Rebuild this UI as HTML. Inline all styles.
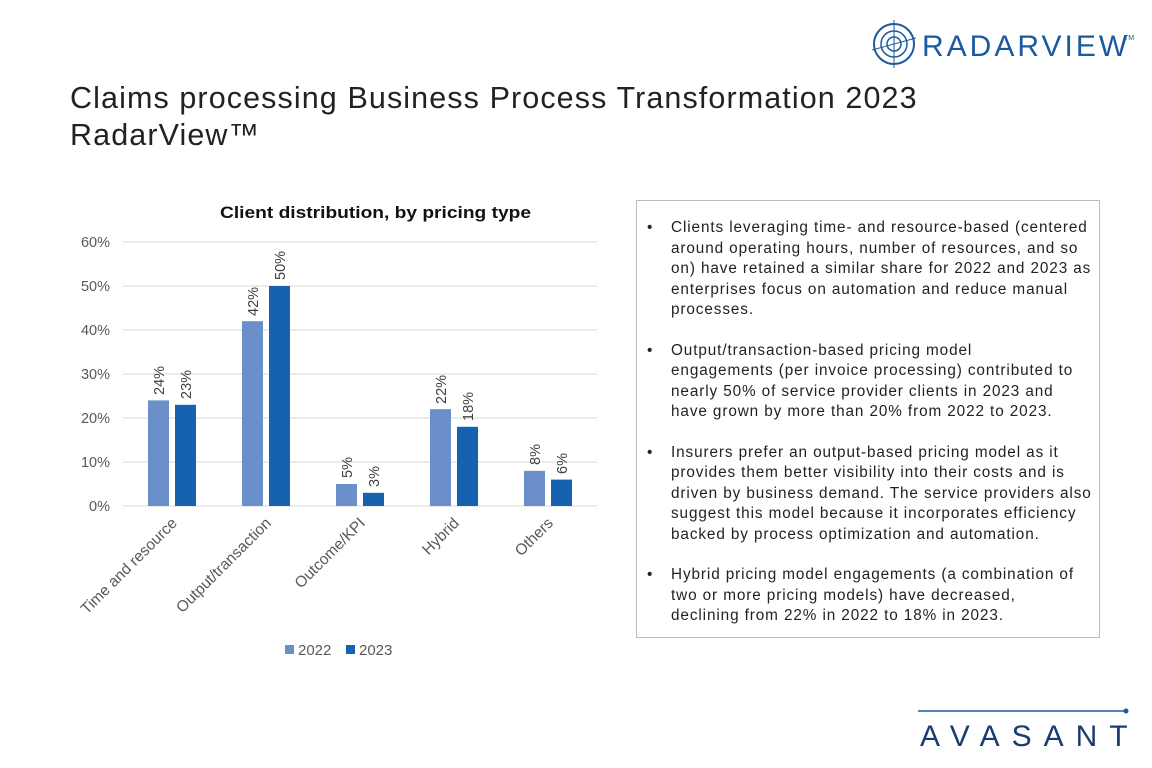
<!DOCTYPE html>
<html><head><meta charset="utf-8"><style>
body{margin:0;width:1152px;height:768px;background:#fff;font-family:"Liberation Sans",sans-serif;position:relative;overflow:hidden}
.t{position:absolute;left:70px;top:80px;font-size:30.5px;line-height:37px;color:#222;letter-spacing:1.1px;white-space:nowrap}
.box{position:absolute;left:636px;top:200px;width:464px;height:438px;border:1px solid #bbb;box-sizing:border-box}
.box ul{margin:0;padding:17px 0 0 34px;font-size:15.3px;line-height:20.5px;color:#222;white-space:nowrap;letter-spacing:0.9px}
.box li{margin-bottom:20px;list-style:none;position:relative}
.box li:before{content:"•";position:absolute;left:-24px}
</style></head><body>
<div class="t">Claims processing Business Process Transformation 2023<br>RadarView™</div>
<svg style="position:absolute;left:0;top:0" width="1152" height="768" font-family="Liberation Sans, sans-serif">
<g stroke="#1a5aa0" fill="none" stroke-width="2">
<circle cx="894" cy="44" r="20"/><circle cx="894" cy="44" r="13" stroke-width="1.5"/><circle cx="894" cy="44" r="7" stroke-width="1.5"/>
<line x1="894" y1="20" x2="894" y2="68" stroke-width="1"/><line x1="872" y1="50" x2="916" y2="38" stroke-width="1"/></g>
<text x="922" y="56" font-size="30" fill="#1a5aa0" letter-spacing="3">RADARVIEW</text>
<text x="1124" y="40" font-size="7" fill="#1a5aa0">TM</text>
<text x="220" y="218" font-size="16.5" font-weight="bold" fill="#111" textLength="311" lengthAdjust="spacingAndGlyphs">Client distribution, by pricing type</text>
<g stroke="#d9d9d9" stroke-width="1">
<line x1="123" y1="242" x2="597" y2="242"/><line x1="123" y1="286" x2="597" y2="286"/><line x1="123" y1="330" x2="597" y2="330"/><line x1="123" y1="374" x2="597" y2="374"/><line x1="123" y1="418" x2="597" y2="418"/><line x1="123" y1="462" x2="597" y2="462"/><line x1="123" y1="506" x2="597" y2="506"/></g>
<g font-size="14.5" fill="#595959" text-anchor="end">
<text x="110" y="247">60%</text><text x="110" y="291">50%</text><text x="110" y="335">40%</text><text x="110" y="379">30%</text><text x="110" y="423">20%</text><text x="110" y="467">10%</text><text x="110" y="511">0%</text></g>
<g fill="#6b8fc8">
<rect x="148" y="400.4" width="21" height="105.6"/><rect x="242" y="321.2" width="21" height="184.8"/><rect x="336" y="484" width="21" height="22"/><rect x="430" y="409.2" width="21" height="96.8"/><rect x="524" y="470.8" width="21" height="35.2"/></g>
<g fill="#1762b0">
<rect x="175" y="404.8" width="21" height="101.2"/><rect x="269" y="286" width="21" height="220"/><rect x="363" y="492.8" width="21" height="13.2"/><rect x="457" y="426.8" width="21" height="79.2"/><rect x="551" y="479.6" width="21" height="26.4"/></g>
<g font-size="14.5" fill="#404040">
<text transform="translate(164,395) rotate(-90)">24%</text><text transform="translate(191,399) rotate(-90)">23%</text>
<text transform="translate(258,316) rotate(-90)">42%</text><text transform="translate(285,280) rotate(-90)">50%</text>
<text transform="translate(352,478) rotate(-90)">5%</text><text transform="translate(379,487) rotate(-90)">3%</text>
<text transform="translate(446,404) rotate(-90)">22%</text><text transform="translate(473,421) rotate(-90)">18%</text>
<text transform="translate(540,465) rotate(-90)">8%</text><text transform="translate(567,474) rotate(-90)">6%</text></g>
<g font-size="15.5" fill="#595959" text-anchor="end">
<text transform="translate(178,524) rotate(-45)">Time and resource</text>
<text transform="translate(272,524) rotate(-45)">Output/transaction</text>
<text transform="translate(366,524) rotate(-45)">Outcome/KPI</text>
<text transform="translate(460,524) rotate(-45)">Hybrid</text>
<text transform="translate(554,524) rotate(-45)">Others</text></g>
<rect x="285" y="645" width="9" height="9" fill="#6b8fc8"/><text x="298" y="655" font-size="15" fill="#595959">2022</text>
<rect x="346" y="645" width="9" height="9" fill="#1762b0"/><text x="359" y="655" font-size="15" fill="#595959">2023</text>
<line x1="918" y1="711" x2="1124" y2="711" stroke="#1a5aa0" stroke-width="1.5"/><circle cx="1126" cy="711" r="2.5" fill="#1a5aa0"/>
<text x="920" y="746" font-size="30" fill="#1a3d70" letter-spacing="12">AVASANT</text>
</svg>
<div class="box"><ul>
<li>Clients leveraging time- and resource-based (centered<br>around operating hours, number of resources, and so<br>on) have retained a similar share for 2022 and 2023 as<br>enterprises focus on automation and reduce manual<br>processes.</li>
<li>Output/transaction-based pricing model<br>engagements (per invoice processing) contributed to<br>nearly 50% of service provider clients in 2023 and<br>have grown by more than 20% from 2022 to 2023.</li>
<li>Insurers prefer an output-based pricing model as it<br>provides them better visibility into their costs and is<br>driven by business demand. The service providers also<br>suggest this model because it incorporates efficiency<br>backed by process optimization and automation.</li>
<li>Hybrid pricing model engagements (a combination of<br>two or more pricing models) have decreased,<br>declining from 22% in 2022 to 18% in 2023.</li>
</ul></div>
</body></html>
